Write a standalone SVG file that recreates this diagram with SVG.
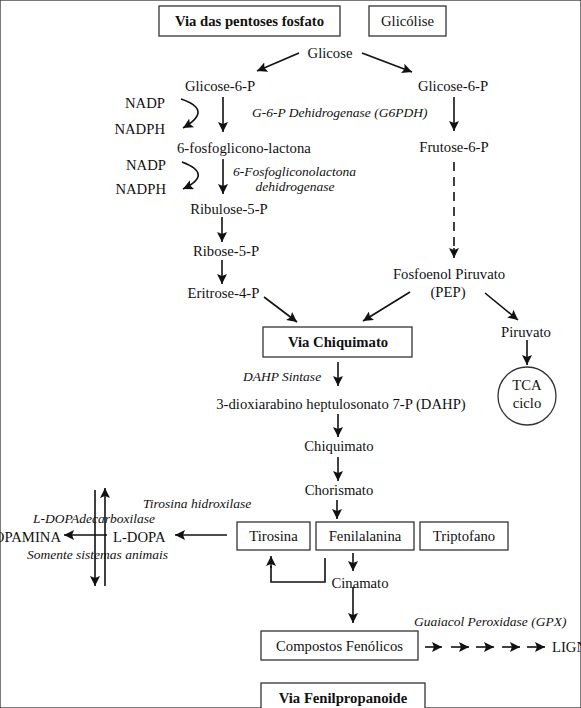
<svg xmlns="http://www.w3.org/2000/svg" width="581" height="708" viewBox="0 0 581 708">
<style>
text{font-family:"Liberation Serif","Times New Roman",serif;font-size:14.7px;fill:#111}
.b{font-weight:bold}
.i{font-style:italic;font-size:13.5px}
.c{text-anchor:middle}
.e{text-anchor:end}
rect,circle{fill:#fff;stroke:#333;stroke-width:1.3}
.ln{fill:none;stroke:#111;stroke-width:1.6}
.ar{fill:none;stroke:#111;stroke-width:1.6;marker-end:url(#ah)}
</style>
<defs>
<marker id="ah" markerUnits="userSpaceOnUse" markerWidth="11" markerHeight="10" refX="10" refY="5" orient="auto">
<path d="M0,0 L10,5 L0,10 L2,5 z" fill="#111"/>
</marker>
</defs>
<rect width="581" height="708" fill="#fff" stroke="none"/>
<g id="n-pentoses"><rect x="159" y="6" width="181" height="30"/><text class="b c" x="249.5" y="26">Via das pentoses fosfato</text></g>
<g id="n-glicolise"><rect x="369" y="6" width="77" height="30"/><text class="c" x="407.5" y="26">Glicólise</text></g>
<g id="n-glicose"><text class="c" x="330" y="58">Glicose</text></g>
<g id="n-g6p-l"><text class="c" x="220" y="91">Glicose-6-P</text></g>
<g id="n-g6p-r"><text class="c" x="453" y="91">Glicose-6-P</text></g>
<g id="n-nadp1"><text class="e" x="165" y="108">NADP</text></g>
<g id="n-nadph1"><text class="e" x="165" y="134">NADPH</text></g>
<g id="n-g6pdh"><text class="i" x="252" y="117">G-6-P Dehidrogenase (G6PDH)</text></g>
<g id="n-lactona"><text x="177" y="153">6-fosfoglicono-lactona</text></g>
<g id="n-frutose"><text class="c" x="454" y="152">Frutose-6-P</text></g>
<g id="n-nadp2"><text class="e" x="166" y="170">NADP</text></g>
<g id="n-nadph2"><text class="e" x="166" y="194">NADPH</text></g>
<g id="n-6fgld"><text class="i" x="233" y="176">6-Fosfogliconolactona</text><text class="i c" x="295" y="191">dehidrogenase</text></g>
<g id="n-ribulose"><text class="c" x="229" y="214">Ribulose-5-P</text></g>
<g id="n-ribose"><text class="c" x="226" y="256">Ribose-5-P</text></g>
<g id="n-eritrose"><text class="c" x="223.5" y="298">Eritrose-4-P</text></g>
<g id="n-pep"><text class="c" x="449" y="279">Fosfoenol Piruvato</text><text class="c" x="448" y="297">(PEP)</text></g>
<g id="n-piruvato"><text class="c" x="526" y="337">Piruvato</text></g>
<g id="n-chiquimato-via"><rect x="263" y="327" width="149" height="30"/><text class="b c" x="338" y="347">Via Chiquimato</text></g>
<g id="n-tca"><circle cx="527" cy="396" r="29"/><text class="c" x="527" y="390">TCA</text><text class="c" x="527" y="408">ciclo</text></g>
<g id="n-dahps"><text class="i" x="243" y="381">DAHP Sintase</text></g>
<g id="n-dahp"><text class="c" x="341" y="409">3-dioxiarabino heptulosonato 7-P (DAHP)</text></g>
<g id="n-chiquimato"><text class="c" x="339" y="451">Chiquimato</text></g>
<g id="n-chorismato"><text class="c" x="339" y="495">Chorismato</text></g>
<g id="n-tirhid"><text class="i" x="143" y="508">Tirosina hidroxilase</text></g>
<g id="n-ldopadec"><text class="i" x="33" y="523">L-DOPAdecarboxilase</text></g>
<g id="n-somente"><text class="i" x="27" y="559">Somente sistemas animais</text></g>
<g id="n-dopamina"><text class="e" x="61" y="542">DOPAMINA</text></g>
<g id="n-ldopa"><text x="113" y="542">L-DOPA</text></g>
<g id="n-tirosina"><rect x="237" y="522" width="73" height="28"/><text class="c" x="273.5" y="541">Tirosina</text></g>
<g id="n-fenilalanina"><rect x="316" y="522" width="98" height="28"/><text class="c" x="365" y="541">Fenilalanina</text></g>
<g id="n-triptofano"><rect x="420" y="522" width="88" height="28"/><text class="c" x="464" y="541">Triptofano</text></g>
<g id="n-cinamato"><text class="c" x="360" y="588">Cinamato</text></g>
<g id="n-gpx"><text class="i" x="414" y="626">Guaiacol Peroxidase (GPX)</text></g>
<g id="n-fenolicos"><rect x="261" y="631" width="157" height="29"/><text class="c" x="339.5" y="651">Compostos Fenólicos</text></g>
<g id="n-lignina"><text x="552" y="652">LIGNINA</text></g>
<g id="n-fenilprop"><rect x="261" y="683" width="164" height="34"/><text class="b c" x="343" y="703">Via Fenilpropanoide</text></g>
<g id="connectors">
<path class="ar" d="M299,53 L257,71"/>
<path class="ar" d="M362,53 L412,72"/>
<path class="ar" d="M223,97 L223,132"/>
<path class="ar" d="M181,99 Q214,110 183,128"/>
<path class="ar" d="M223,159 L223,194"/>
<path class="ar" d="M182,162 Q214,174 183,189"/>
<path class="ar" d="M222,217 L222,242"/>
<path class="ar" d="M222,260 L222,284"/>
<path class="ar" d="M264,297 L297,322"/>
<path class="ar" d="M454,97 L454,131"/>
<path class="ln" d="M454,162 L454,250" stroke-dasharray="9,6"/>
<path class="ar" d="M454,248 L454,258"/>
<path class="ar" d="M410,292 L363,321"/>
<path class="ar" d="M485,293 L518,320"/>
<path class="ar" d="M527,340 L527,365"/>
<path class="ar" d="M338,362 L338,386"/>
<path class="ar" d="M338,414 L338,437"/>
<path class="ar" d="M338,457 L338,481"/>
<path class="ar" d="M337,500 L337,519"/>
<path class="ar" d="M227,535 L175,535"/>
<path class="ar" d="M107,535 L64,535"/>
<path class="ar" d="M95,490 L95,586"/>
<path class="ar" d="M105,586 L105,488"/>
<path class="ar" d="M353,553 L353,571"/>
<path class="ln" d="M325,558 L325,582 L271,582 L271,566"/>
<path class="ar" d="M271,568 L271,556"/>
<path class="ar" d="M353,587 L353,623"/>
<path class="ar" d="M425,647 L442,647"/>
<path class="ar" d="M451,647 L469,647"/>
<path class="ar" d="M476,647 L494,647"/>
<path class="ar" d="M502,647 L520,647"/>
<path class="ar" d="M527,647 L545,647"/>
</g>
</svg>
